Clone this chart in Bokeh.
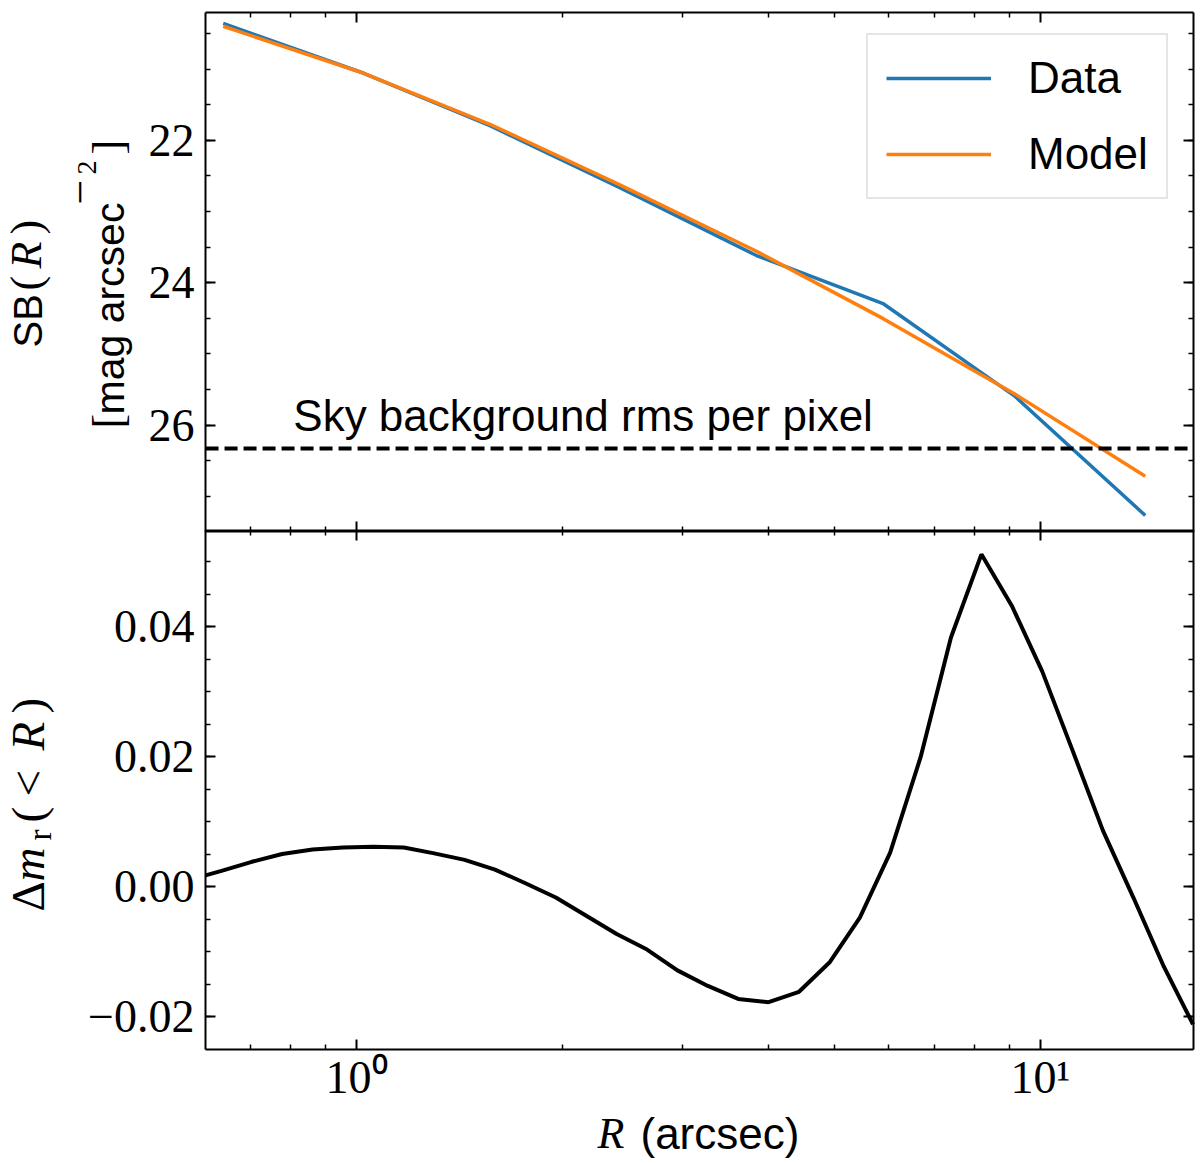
# -*- coding: utf-8 -*-
# Surface-brightness profile (data vs model) and residual of the cumulative magnitude.
# One canvas-sized frame; both panels are boxes drawn with fixed-location axes so
# that the mixed-font axis labels can sit anywhere on the page.
import math

import numpy as np
from bokeh.plotting import figure
from bokeh.models import (Range1d, FixedTicker, LogAxis, LinearAxis, Label,
                          Legend, LegendItem, CustomJSTickFormatter)
from bokeh.embed import file_html
from bokeh.resources import INLINE

# --- top panel: surface brightness profile
r_prof = [0.6385, 1.0249, 1.5703, 2.4183, 3.8443, 5.8988, 9.158, 14.228]
sb_data = [20.36, 21.06, 21.80, 22.66, 23.62, 24.30, 25.59, 27.27]
sb_model = [20.40, 21.06, 21.78, 22.62, 23.56, 24.51, 25.56, 26.72]
sky_rms = 26.33

# --- bottom panel: delta m_r(<R)
r_dm = [0.6016, 0.6347, 0.7029, 0.7786, 0.8626, 0.9556, 1.0586, 1.1727, 1.2990,
        1.4391, 1.5941, 1.7659, 1.9563, 2.1671, 2.4007, 2.6594, 2.9459, 3.2635,
        3.6141, 4.0041, 4.4355, 4.9138, 5.4437, 6.0284, 6.6788, 7.3975, 8.1958,
        9.0782, 10.058, 11.142, 12.340, 13.671, 15.142, 16.71]
dm = [0.0017, 0.0024, 0.0038, 0.0050, 0.0057, 0.0060, 0.0061, 0.0060, 0.0051,
      0.0041, 0.0026, 0.0005, -0.0017, -0.0045, -0.0073, -0.0097, -0.0129, -0.0153,
      -0.0173, -0.0178, -0.0162, -0.0117, -0.0048, 0.0052, 0.0199, 0.0383, 0.0511,
      0.0432, 0.0331, 0.0209, 0.0086, -0.0017, -0.0123, -0.0212]

# axis limits and ticks
x_lim = (0.6016, 16.71)
sb_lim = (20.20, 27.49)
dm_lim = (-0.0251, 0.0547)
x_major = [1, 10]
x_minor = [0.7, 0.8, 0.9, 2, 3, 4, 5, 6, 7, 8, 9]
sb_major = [22, 24, 26]
sb_minor = list(np.arange(20.5, 27.01, 0.5))
dm_major = [-0.02, 0.0, 0.02, 0.04]
dm_minor = list(np.round(np.arange(-0.02, 0.0501, 0.005), 3))

SANS = "Liberation Sans"
SERIF = "Liberation Serif"
W, H = 1200, 1160


# page pixel -> data (the page is one frame)
def r_at(px):
    return 10 ** ((px - 356.0) / 684.0)


def sb_at(py):
    return 22 + (py - 139.7) / 71.2


def dm_at(py):
    return (886.0 - py) / 6500.0


p = figure(width=W, height=H, x_axis_type="log",
           x_range=Range1d(r_at(0), r_at(W)), y_range=Range1d(dm_at(H), dm_at(0)),
           x_axis_location=None, y_axis_location=None,
           min_border=0, output_backend="svg", toolbar_location=None)
p.extra_y_ranges = {"sb": Range1d(sb_at(H), sb_at(0))}
p.outline_line_color = None
p.xgrid.grid_line_color = None
p.ygrid.grid_line_color = None


def box_axis(side, ticker, loc, bounds, rname="default", labels=False, formatter=None):
    cls = LogAxis if side in ("above", "below") else LinearAxis
    ax = cls(ticker=ticker, fixed_location=loc, bounds=bounds, y_range_name=rname)
    ax.axis_line_width = 2
    ax.axis_line_color = "black"
    ax.major_tick_in = 10
    ax.major_tick_out = 0
    ax.minor_tick_in = 5
    ax.minor_tick_out = 0
    ax.major_tick_line_width = 2
    ax.minor_tick_line_width = 1.5
    ax.major_tick_line_color = "black"
    ax.minor_tick_line_color = "black"
    if labels:
        ax.major_label_text_font = SERIF
        ax.major_label_text_font_size = "46px"
        ax.major_label_text_color = "black"
        ax.major_label_standoff = 11 if side == "left" else 2
        if formatter is not None:
            ax.formatter = formatter
    else:
        ax.major_label_text_font_size = "1px"
        ax.major_label_text_alpha = 0
        ax.major_label_standoff = 0
    p.add_layout(ax, side)
    return ax


def text(px, py, s, font, size, style="normal", rotated=False, rname="default"):
    # px, py: start of the baseline on the page; the label's own baseline sits
    # about 0.36 em below its anchor, so the anchor is moved back by that much
    fix = 0.36 * size
    if rotated:
        px -= fix
    else:
        py -= fix
    y = sb_at(py) if rname == "sb" else dm_at(py)
    p.add_layout(Label(x=r_at(px), y=y, text=s, text_font=font,
                       text_font_size="%dpx" % size, text_font_style=style,
                       angle=math.pi / 2 if rotated else 0.0, text_color="black",
                       text_align="left", text_baseline="alphabetic",
                       y_range_name=rname))


x_ticker = FixedTicker(ticks=x_major, minor_ticks=x_minor)
sb_ticker = FixedTicker(ticks=sb_major, minor_ticks=sb_minor)
dm_ticker = FixedTicker(ticks=dm_major, minor_ticks=dm_minor)

# ================= top panel
box_axis("left", sb_ticker, x_lim[0], sb_lim, "sb", labels=True)
box_axis("right", sb_ticker, x_lim[1], sb_lim, "sb")
box_axis("above", x_ticker, sb_lim[0], x_lim, "sb")
box_axis("below", x_ticker, sb_lim[1], x_lim, "sb")

l_data = p.line(r_prof, sb_data, line_color="#1f77b4", line_width=3.5, y_range_name="sb")
l_model = p.line(r_prof, sb_model, line_color="#ff7f0e", line_width=3.5, y_range_name="sb")
p.segment(x0=[x_lim[0]], x1=[x_lim[1]], y0=[sky_rms], y1=[sky_rms], y_range_name="sb",
          line_color="black", line_width=4, line_dash="13 6")

text(292.8, 430.4, "Sky background rms per pixel", SANS, 44, rname="sb")

legend = Legend(items=[LegendItem(label="Data", renderers=[l_data]),
                       LegendItem(label="Model", renderers=[l_model])],
                location=(866, H - 199), margin=0, padding=18, spacing=26,
                glyph_width=105, glyph_height=46, label_height=46,
                label_standoff=37, label_text_font=SANS,
                label_text_font_size="44px", label_text_color="black",
                border_line_color="#cccccc", border_line_width=2,
                background_fill_color="white", background_fill_alpha=0.8)
p.add_layout(legend)

# y label: SB(R) / [mag arcsec^-2]
text(42, 347, "SB", SANS, 40, rotated=True, rname="sb")
text(42, 290, "(", SERIF, 44, rotated=True, rname="sb")
text(42, 268, "R", SERIF, 44, "italic", rotated=True, rname="sb")
text(42, 234, ")", SERIF, 44, rotated=True, rname="sb")
text(124, 428, "[", SERIF, 44, rotated=True, rname="sb")
text(124, 414, "mag arcsec", SANS, 41, rotated=True, rname="sb")
text(96, 204, "\u2212", SERIF, 44, rotated=True, rname="sb")
text(97, 174, "2", SERIF, 28, rotated=True, rname="sb")
text(124, 154, "]", SERIF, 44, rotated=True, rname="sb")

# ================= bottom panel
box_axis("left", dm_ticker, x_lim[0], dm_lim, labels=True,
         formatter=CustomJSTickFormatter(
             code="return (tick < -1e-9 ? '\\u2212' : '') + Math.abs(tick).toFixed(2);"))
box_axis("right", dm_ticker, x_lim[1], dm_lim)
box_axis("above", x_ticker, dm_lim[1], x_lim)
box_axis("below", x_ticker, dm_lim[0], x_lim, labels=True,
         formatter=CustomJSTickFormatter(
             code="return tick < 5 ? '10\\u2070' : '10\\u00b9';"))

p.line(r_dm, dm, line_color="black", line_width=4)

# y label: Delta m_r(< R)
text(44, 911, "\u0394", SERIF, 47, rotated=True)
text(44, 881, "m", SERIF, 47, "italic", rotated=True)
text(51, 840, "r", SERIF, 33, rotated=True)
text(44, 822, "(", SERIF, 47, rotated=True)
text(44, 796, "<", SERIF, 47, rotated=True)
text(44, 750, "R", SERIF, 47, "italic", rotated=True)
text(44, 713, ")", SERIF, 47, rotated=True)

# x label: R (arcsec)
text(597, 1149, "R", SERIF, 44, "italic")
text(640, 1149, "(arcsec)", SANS, 44)

open("out.html", "w", encoding="utf-8").write(file_html(p, INLINE))
